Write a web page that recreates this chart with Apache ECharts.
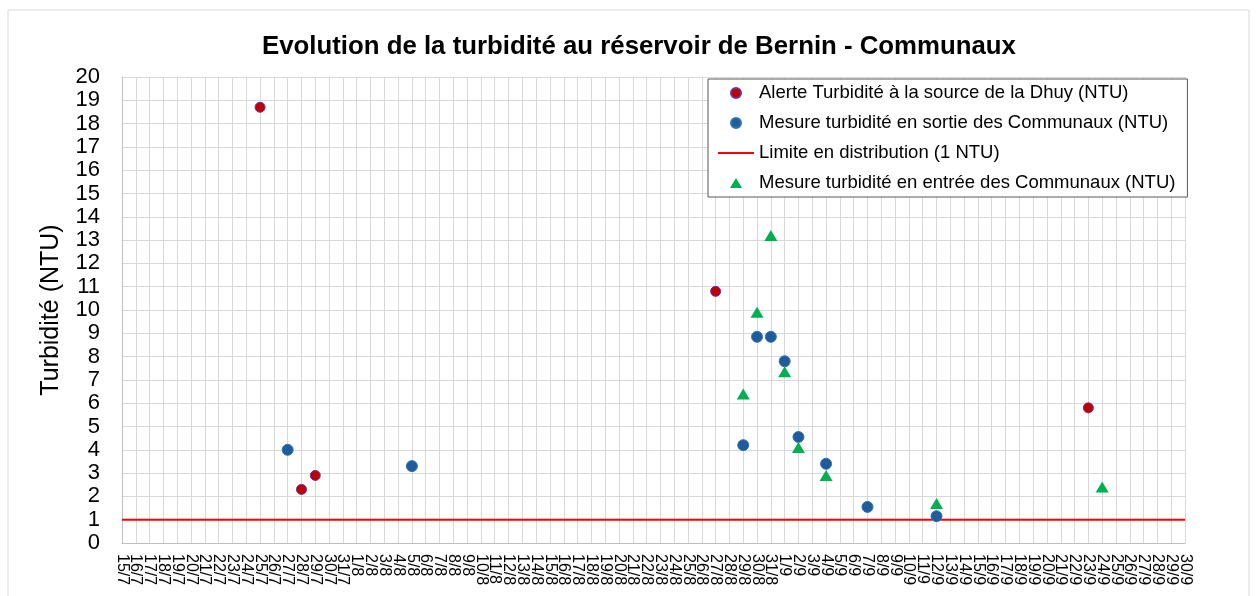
<!DOCTYPE html>
<html>
<head>
<meta charset="utf-8">
<title>Turbidité Bernin</title>
<script src="https://cdn.jsdelivr.net/npm/echarts@6.0.0/dist/echarts.min.js"></script>
<style>
  html, body { margin: 0; padding: 0; background: #fff; }
  #main { width: 1256px; height: 596px; }
</style>
</head>
<body>
<div id="main"></div>
<script>
// jours affichés sur l'axe
var jours = [
	'15/7','16/7','17/7','18/7','19/7','20/7','21/7','22/7','23/7','24/7','25/7','26/7','27/7','28/7','29/7','30/7','31/7',
	'1/8','2/8','3/8','4/8','5/8','6/8','7/8','8/8','9/8','10/8','11/8','12/8','13/8','14/8','15/8','16/8',
	'17/8','18/8','19/8','20/8','21/8','22/8','23/8','24/8','25/8','26/8','27/8','28/8','29/8','30/8','31/8',
	'1/9','2/9','3/9','4/9','5/9','6/9','7/9','8/9','9/9','10/9','11/9','12/9','13/9','14/9','15/9',
	'16/9','17/9','18/9','19/9','20/9','21/9','22/9','23/9','24/9','25/9','26/9','27/9','28/9','29/9','30/9'
];

var alerteDates = ['25/7', '28/7', '29/7', '27/8', '23/9'];
var alerteValues = [18.7, 2.3, 2.9, 10.8, 5.8];

var sortieDates = ['27/7', '5/8', '29/8', '30/8', '31/8', '1/9', '2/9', '4/9', '7/9', '12/9'];
var sortieValues = [4.0, 3.3, 4.2, 8.85, 8.85, 7.8, 4.55, 3.4, 1.55, 1.15];

var limiteDates = ['15/7', '30/9'];
var limiteValues = [1, 1];

var entreeDates = ['29/8', '30/8', '31/8', '1/9', '2/9', '4/9', '12/9', '24/9'];
var entreeValues = [6.4, 9.9, 13.2, 7.35, 4.1, 2.9, 1.7, 2.4];

function paires(dates, values) {
	return dates.map(function (d, i) { return [d, values[i]]; });
}

var police = 'Liberation Sans';
var nomAlerte = 'Alerte Turbidité à la source de la Dhuy (NTU)';
var nomSortie = 'Mesure turbidité en sortie des Communaux (NTU)';
var nomLimite = 'Limite en distribution (1 NTU)';
var nomEntree = 'Mesure turbidité en entrée des Communaux (NTU)';

var myChart = echarts.init(document.getElementById('main'));
var option = {
	animation: false,
	backgroundColor: '#fff',
	textStyle: { fontFamily: police },
	graphic: [{
		type: 'rect',
		shape: { x: 8, y: 10, width: 1241, height: 600 },
		style: { fill: 'none', stroke: '#D9D9D9', lineWidth: 1 },
		silent: true
	}],
	title: {
		text: 'Evolution de la turbidité au réservoir de Bernin - Communaux',
		left: 262,
		top: 34,
		padding: 0,
		textStyle: { fontFamily: police, fontSize: 25.8, fontWeight: 'bold', color: '#000' }
	},
	legend: {
		orient: 'vertical',
		left: 708,
		top: 79,
		padding: [4, 12, 4, 10],
		itemGap: 10,
		itemWidth: 36,
		itemHeight: 10,
		symbolKeepAspect: true,
		backgroundColor: '#fff',
		borderColor: '#595959',
		borderWidth: 1,
		textStyle: { fontFamily: police, fontSize: 18.5, color: '#000', lineHeight: 20 },
		data: [
			{ name: nomAlerte, icon: 'circle' },
			{ name: nomSortie, icon: 'circle' },
			{ name: nomLimite, icon: 'path://M0,0 L36,0 L36,2 L0,2 Z' },
			{ name: nomEntree, icon: 'path://M6,0 L12,10 L0,10 Z' }
		]
	},
	grid: { left: 122, right: 71, top: 77, bottom: 53 },
	xAxis: {
		type: 'category',
		data: jours,
		boundaryGap: false,
		axisLine: { lineStyle: { color: '#BFBFBF' } },
		axisTick: { show: false },
		splitLine: { show: true, interval: 0, lineStyle: { color: '#D9D9D9' } },
		axisLabel: { interval: 0, rotate: -90, margin: 11, fontSize: 16, color: '#000', fontFamily: police }
	},
	yAxis: {
		type: 'value',
		min: 0,
		max: 20,
		interval: 1,
		name: 'Turbidité (NTU)',
		nameLocation: 'middle',
		nameGap: 58,
		nameTextStyle: { fontFamily: police, fontSize: 25, color: '#000' },
		axisLine: { show: true, lineStyle: { color: '#BFBFBF' } },
		axisTick: { show: false },
		splitLine: { lineStyle: { color: '#D9D9D9' } },
		axisLabel: { fontSize: 22, color: '#000', margin: 22, fontFamily: police }
	},
	series: [
		{
			name: nomAlerte,
			type: 'scatter',
			symbol: 'circle',
			symbolSize: 10,
			itemStyle: { color: '#C00000', borderColor: '#7030A0', borderWidth: 1, opacity: 1 },
			data: paires(alerteDates, alerteValues),
			z: 4
		},
		{
			name: nomSortie,
			type: 'scatter',
			symbol: 'circle',
			symbolSize: 11,
			itemStyle: { color: '#1F5C99', borderColor: '#2E75B6', borderWidth: 1, opacity: 1 },
			data: paires(sortieDates, sortieValues),
			z: 4
		},
		{
			name: nomLimite,
			type: 'line',
			symbol: 'none',
			lineStyle: { color: '#FF0000', width: 2 },
			itemStyle: { color: '#FF0000' },
			data: paires(limiteDates, limiteValues),
			z: 3
		},
		{
			name: nomEntree,
			type: 'scatter',
			symbol: 'triangle',
			symbolSize: [13, 11],
			itemStyle: { color: '#00B050', opacity: 1 },
			data: paires(entreeDates, entreeValues),
			z: 3
		}
	]
};
myChart.setOption(option);
</script>
</body>
</html>
